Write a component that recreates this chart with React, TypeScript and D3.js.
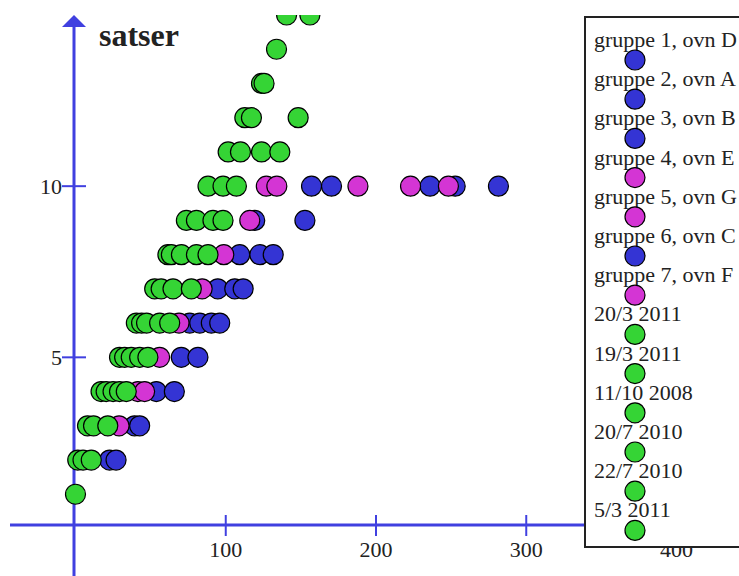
import * as d3 from 'd3'

type Pt = [number, number]

// groups (x = time, y = satser)
const gruppe1: Pt[] = [[22.7, 2], [39.3, 3], [53.8, 4], [70.4, 5], [76, 6], [94.7, 7], [109.3, 8], [119.3, 9], [157.1, 10]]
const gruppe2: Pt[] = [[27, 2], [42.7, 3], [65.8, 4], [81.5, 5], [82.7, 6], [106, 7], [122.7, 8], [152.7, 9], [170.4, 10]]
const gruppe3: Pt[] = [[90.4, 6], [111.6, 7], [131.6, 8], [236, 10], [281.5, 10]]
const gruppe4: Pt[] = [[29, 3], [41.5, 4], [56, 5], [68.9, 6], [84.3, 7], [98.7, 8], [116, 9], [127, 10]]
const gruppe5: Pt[] = [[46, 4], [134, 10], [188, 10]]
const gruppe6: Pt[] = [[96, 6], [252.7, 10]]
const gruppe7: Pt[] = [[223, 10], [248.2, 10]]

// dates
const d20_3_2011: Pt[] = [[0, 1], [1.5, 2], [8, 3], [17, 4], [29.3, 5], [40.5, 6], [52.7, 7], [61.5, 8], [73.8, 9], [88.2, 10], [101.6, 11], [112.7, 12], [123.8, 13], [133.8, 14], [140.5, 15]]
const d19_3_2011: Pt[] = [[5, 2], [12, 3], [20.4, 4], [32.7, 5], [44, 6], [57, 7], [63.8, 8], [80.5, 9], [98.2, 10], [109.8, 11], [117.1, 12], [125.5, 13], [156, 15]]
const d11_10_2008: Pt[] = [[10.5, 2], [21.5, 3], [25, 4], [37.1, 5], [47.3, 6], [64.9, 7], [70.5, 8], [91.5, 9], [107.1, 10], [123.8, 11], [148.2, 12]]
const d20_7_2010: Pt[] = [[29.3, 4], [42.7, 5], [56, 6], [77.1, 7], [80.5, 8], [98.2, 9]]
const d22_7_2010: Pt[] = [[33.8, 4], [48.2, 5], [62.7, 6]]
const d5_3_2011: Pt[] = [[88.2, 8], [136, 11]]

const BLUE = '#3434d4'
const MAGENTA = '#d435d4'
const GREEN = '#35d435'

const series = [
  { name: 'gruppe 1, ovn D', color: BLUE, data: gruppe1 },
  { name: 'gruppe 2, ovn A', color: BLUE, data: gruppe2 },
  { name: 'gruppe 3, ovn B', color: BLUE, data: gruppe3 },
  { name: 'gruppe 4, ovn E', color: MAGENTA, data: gruppe4 },
  { name: 'gruppe 5, ovn G', color: MAGENTA, data: gruppe5 },
  { name: 'gruppe 6, ovn C', color: BLUE, data: gruppe6 },
  { name: 'gruppe 7, ovn F', color: MAGENTA, data: gruppe7 },
  { name: '20/3 2011', color: GREEN, data: d20_3_2011 },
  { name: '19/3 2011', color: GREEN, data: d19_3_2011 },
  { name: '11/10 2008', color: GREEN, data: d11_10_2008 },
  { name: '20/7 2010', color: GREEN, data: d20_7_2010 },
  { name: '22/7 2010', color: GREEN, data: d22_7_2010 },
  { name: '5/3 2011', color: GREEN, data: d5_3_2011 },
]

const xTicks = [100, 200, 300, 400]
const yTicks = [5, 10]

const W = 739
const H = 576
const AXIS = '#4040e0'
const SERIF = '"Liberation Serif", "Times New Roman", serif'

export default function App() {
  const x = d3.scaleLinear().domain([0, 400]).range([75.5, 676.5])
  const y = d3.scaleLinear().domain([0, 15]).range([528.5, 15])
  const x0 = x(0)
  const axisY = y(0) - 3.5
  const top = y(15)

  const legendX = 585
  const legendY = 17
  const rowH = 39.2

  return (
    <svg
      width={W}
      height={H}
      style={{ position: 'absolute', left: 0, top: 0, background: '#fff' }}
    >
      <defs>
        <clipPath id="plot">
          <rect x={0} y={top} width={W} height={H - top} />
        </clipPath>
      </defs>

      {/* x axis */}
      <line x1={10} x2={W} y1={axisY} y2={axisY} stroke={AXIS} strokeWidth={3} />
      {xTicks.map(t => (
        <g key={t}>
          <line x1={x(t)} x2={x(t)} y1={axisY - 10} y2={axisY + 11} stroke={AXIS} strokeWidth={2} />
          <text x={x(t)} y={557} textAnchor="middle" fontFamily={SERIF} fontSize={22} fill="#222">
            {t}
          </text>
        </g>
      ))}

      {/* y axis */}
      <line x1={x0 - 1.5} x2={x0 - 1.5} y1={H} y2={top + 8} stroke={AXIS} strokeWidth={3} />
      <path
        d={`M${x0 - 1.5},${top} L${x0 - 13.5},${top + 12} L${x0 + 10.5},${top + 12} Z`}
        fill={AXIS}
      />
      {yTicks.map(t => (
        <g key={t}>
          <line x1={x0 - 13.5} x2={x0 + 10.5} y1={y(t)} y2={y(t)} stroke={AXIS} strokeWidth={2} />
          <text x={62} y={y(t) + 7.5} textAnchor="end" fontFamily={SERIF} fontSize={22} fill="#222">
            {t}
          </text>
        </g>
      ))}
      <text x={99} y={46} fontFamily={SERIF} fontSize={32} fontWeight="bold" fill="#222">
        satser
      </text>

      {/* points */}
      <g clipPath="url(#plot)">
        {series.map(s =>
          s.data.map((d, i) => (
            <circle
              key={s.name + i}
              cx={x(d[0])}
              cy={y(d[1])}
              r={10}
              fill={s.color}
              stroke="#000"
              strokeWidth={1.2}
            />
          ))
        )}
      </g>

      {/* legend */}
      <rect
        x={legendX}
        y={legendY}
        width={W}
        height={530}
        fill="#fff"
        stroke="#222"
        strokeWidth={2}
      />
      {series.map((s, i) => (
        <g key={s.name} transform={`translate(0,${i * rowH})`}>
          <text x={legendX + 9} y={47} fontFamily={SERIF} fontSize={22} fill="#222">
            {s.name}
          </text>
          <circle cx={635} cy={60} r={10} fill={s.color} stroke="#000" strokeWidth={1.2} />
        </g>
      ))}
    </svg>
  )
}
